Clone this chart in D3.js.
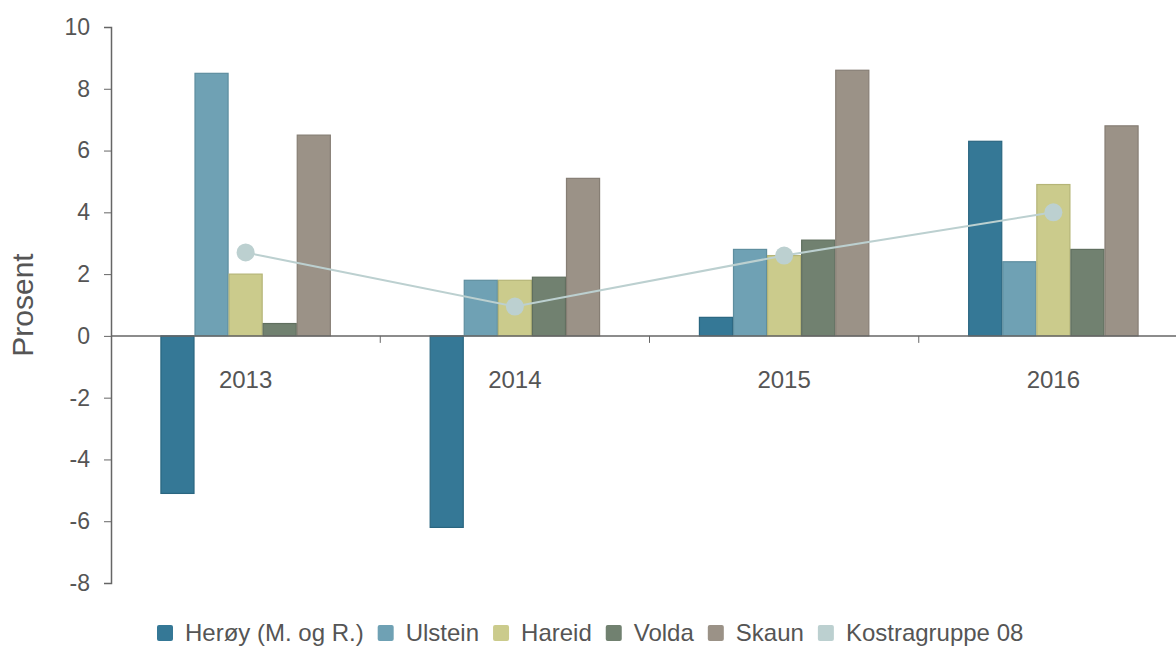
<!DOCTYPE html>
<html>
<head>
<meta charset="utf-8">
<script src="https://cdn.jsdelivr.net/npm/d3@7"></script>
<style>
  body { margin: 0; background: #fff; }
  svg { font-family: "Liberation Sans", Arial, sans-serif; }
</style>
</head>
<body>
<svg id="chart" width="1176" height="646"></svg>
<script>
// data
var years = ["2013", "2014", "2015", "2016"];
var barSeries = ["Herøy (M. og R.)", "Ulstein", "Hareid", "Volda", "Skaun"];
var heroy   = [-5.1, -6.2, 0.6, 6.3];
var ulstein = [8.5, 1.8, 2.8, 2.4];
var hareid  = [2.0, 1.8, 2.6, 4.9];
var volda   = [0.4, 1.9, 3.1, 2.8];
var skaun   = [6.5, 5.1, 8.6, 6.8];
var kostra  = [2.7, 0.95, 2.6, 4.0];
var yTicks  = [-8, -6, -4, -2, 0, 2, 4, 6, 8, 10];

var barValues = [heroy, ulstein, hareid, volda, skaun];
var fills   = ["#357896", "#6fa1b4", "#cbcb8c", "#718170", "#9b9287"];
var strokes = ["#2a6680", "#5e8e9f", "#b5b577", "#606f5f", "#867e74"];
var lineColor = "#bcd0d0";

var svg = d3.select("#chart");

var x0 = d3.scaleBand().domain(years).range([111, 1188]).paddingInner(0).paddingOuter(0);
var x1 = d3.scaleBand().domain(d3.range(barSeries.length))
  .range([0, x0.bandwidth()]).paddingOuter(1.45).paddingInner(0);
var y = d3.scaleLinear().domain([-8, 10]).range([583, 27]);

// y axis
var yAxis = svg.append("g")
  .attr("transform", "translate(111,0)")
  .call(d3.axisLeft(y).tickValues(yTicks).tickSize(7).tickPadding(14)
    .tickFormat(function (d) { return String(d); }));
yAxis.select(".domain").attr("stroke", "#666").attr("stroke-width", 1.5);
yAxis.selectAll(".tick line").attr("stroke", "#666");
yAxis.selectAll(".tick text").attr("fill", "#555").style("font-size", "23px")
  .style("font-family", "Liberation Sans, Arial, sans-serif");

svg.append("text")
  .attr("transform", "translate(33,305) rotate(-90)")
  .attr("text-anchor", "middle")
  .attr("fill", "#555")
  .style("font-size", "30px")
  .text("Prosent");

// bars
var groups = svg.selectAll(".year")
  .data(years)
  .enter().append("g")
  .attr("class", "year")
  .attr("transform", function (d) { return "translate(" + x0(d) + ",0)"; });

groups.selectAll("rect")
  .data(function (d, i) {
    return barValues.map(function (vals, s) { return { s: s, v: vals[i] }; });
  })
  .enter().append("rect")
  .attr("x", function (d) { return x1(d.s) + 0.5; })
  .attr("width", x1.bandwidth() - 1)
  .attr("y", function (d) { return y(Math.max(0, d.v)); })
  .attr("height", function (d) { return Math.abs(y(d.v) - y(0)); })
  .attr("fill", function (d) { return fills[d.s]; })
  .attr("stroke", function (d) { return strokes[d.s]; })
  .attr("stroke-width", 1.2);

// x axis (at zero)
svg.append("line")
  .attr("x1", 111).attr("x2", 1188)
  .attr("y1", y(0)).attr("y2", y(0))
  .attr("stroke", "#666").attr("stroke-width", 1.5);

svg.selectAll(".xtick")
  .data(years.slice(1))
  .enter().append("line")
  .attr("class", "xtick")
  .attr("x1", function (d) { return x0(d); })
  .attr("x2", function (d) { return x0(d); })
  .attr("y1", y(0)).attr("y2", y(0) + 7)
  .attr("stroke", "#666");

svg.selectAll(".xlabel")
  .data(years)
  .enter().append("text")
  .attr("class", "xlabel")
  .attr("x", function (d) { return x0(d) + x0.bandwidth() / 2; })
  .attr("y", y(0) + 52)
  .attr("text-anchor", "middle")
  .attr("fill", "#555")
  .style("font-size", "24px")
  .text(function (d) { return d; });

// kostra line
var xMid = function (d, i) { return x0(years[i]) + x1(2) + x1.bandwidth() / 2; };
var line = d3.line()
  .x(function (d, i) { return xMid(d, i); })
  .y(function (d) { return y(d); });

svg.append("path")
  .datum(kostra)
  .attr("d", line)
  .attr("fill", "none")
  .attr("stroke", lineColor)
  .attr("stroke-width", 2);

svg.selectAll(".pt")
  .data(kostra)
  .enter().append("circle")
  .attr("class", "pt")
  .attr("cx", function (d, i) { return xMid(d, i); })
  .attr("cy", function (d) { return y(d); })
  .attr("r", 9)
  .attr("fill", lineColor);

// legend
var legendNames = barSeries.concat(["Kostragruppe 08"]);
var legendColors = fills.concat([lineColor]);
var legend = svg.append("g").attr("transform", "translate(157,633)");
var lx = 0;
legendNames.forEach(function (name, i) {
  var g = legend.append("g").attr("transform", "translate(" + lx + ",0)");
  g.append("rect")
    .attr("x", 0).attr("y", -8)
    .attr("width", 16).attr("height", 16)
    .attr("rx", 2)
    .attr("fill", legendColors[i]);
  var t = g.append("text")
    .attr("x", 28).attr("y", 8)
    .attr("fill", "#555")
    .style("font-size", "24px")
    .text(name);
  lx += 28 + t.node().getComputedTextLength() + 14;
});
</script>
</body>
</html>
